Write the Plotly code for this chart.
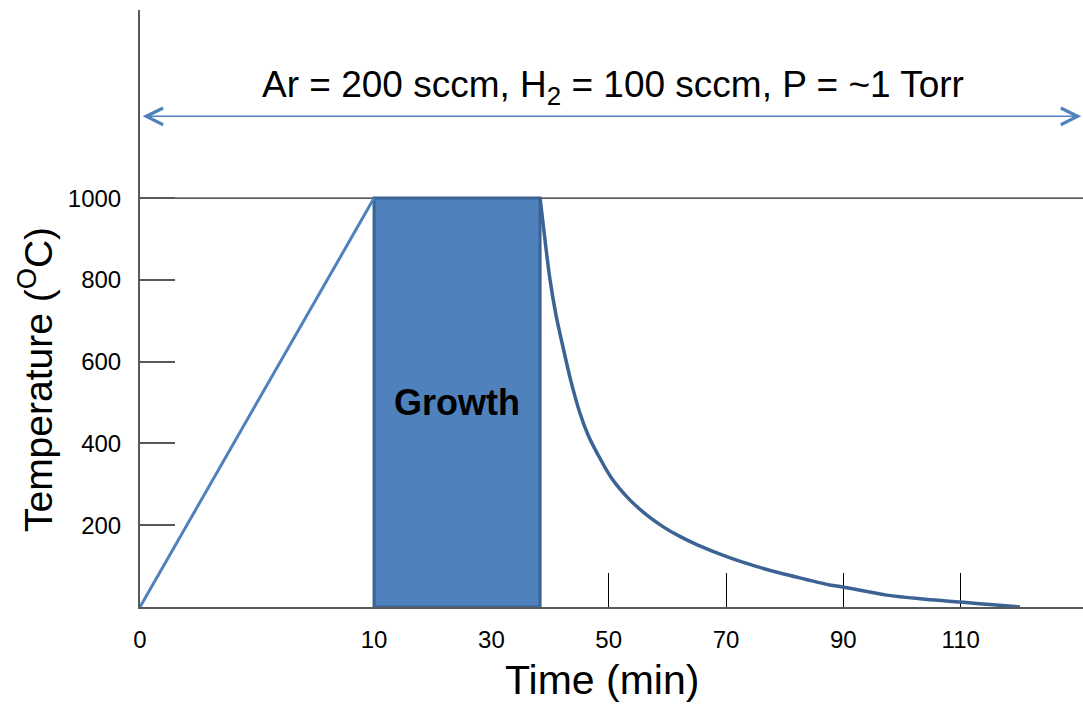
import plotly.graph_objects as go

# ---------------- data ----------------
ramp_time = [0, 10]                      # min
ramp_temp = [0, 1000]                    # degC
growth_start, growth_end = 10, 38.3      # min
growth_temp = 1000                       # degC
cool_time = [38.3, 39.2, 40.0, 41.0, 42.2, 43.6, 45.1, 46.5, 48.0, 50.5, 53.6,
             56.4, 59.3, 62.2, 65.1, 70.7, 75.0, 79.2, 83.5, 87.7, 89.9, 97.4,
             104.0, 110.0, 115.0, 120.1]
cool_temp = [1000, 890, 800, 715, 636, 550, 474, 420, 377, 315, 262,
             226, 196, 172, 152, 120, 100, 83, 68, 54, 49, 29,
             19, 12, 6, 0]
x_tick_minutes = [0, 10, 30, 50, 70, 90, 110]
x_tick_labels = [str(v) for v in x_tick_minutes]
y_tick_values = [200, 400, 600, 800, 1000]
gas_label = "Ar = 200 sccm, H<sub>2</sub> = 100 sccm, P = ~1 Torr"
gas_band_temp = 1200
growth_label = "<b>Growth</b>"

# schematic (broken) time axis: the 0-10 min ramp is stretched
ZERO_POS = -29.9
X_MAX = 130.85
def axis_pos(t):
    return t if t >= 10 else ZERO_POS + (10 - ZERO_POS) * t / 10

FONT = "Arial, Liberation Sans, sans-serif"
LIGHT = "#4f81bd"
DARK = "#3b6394"

fig = go.Figure()

# growth box
gx = [axis_pos(growth_start), axis_pos(growth_end), axis_pos(growth_end),
      axis_pos(growth_start), axis_pos(growth_start)]
gy = [0, 0, growth_temp, growth_temp, 0]
fig.add_trace(go.Scatter(x=gx, y=gy, mode="lines", fill="toself",
                         fillcolor=LIGHT, line=dict(color=DARK, width=3),
                         hoverinfo="skip", showlegend=False))

# ramp
fig.add_trace(go.Scatter(x=[axis_pos(t) for t in ramp_time], y=ramp_temp,
                         mode="lines", line=dict(color=LIGHT, width=3),
                         showlegend=False))

# cooling
fig.add_trace(go.Scatter(x=[axis_pos(t) for t in cool_time], y=cool_temp,
                         mode="lines", line=dict(color=DARK, width=3.5, shape="spline", smoothing=1.0),
                         showlegend=False))

# 1000 degC line
fig.add_shape(type="line", xref="paper", x0=0, x1=1, yref="y",
              y0=growth_temp, y1=growth_temp, layer="below",
              line=dict(color="#222222", width=1.3))

# gas-flow double arrow
fig.add_annotation(x=X_MAX - 0.3, y=gas_band_temp, ax=ZERO_POS + 0.2, ay=gas_band_temp,
                   xref="x", yref="y", axref="x", ayref="y", text="",
                   showarrow=True, arrowside="end+start", arrowhead=5, startarrowhead=5,
                   arrowsize=2.2, startarrowsize=2.2, arrowwidth=1.5, arrowcolor=LIGHT)
fig.add_annotation(x=50.8, y=1271, xref="x", yref="y", text=gas_label,
                   showarrow=False, font=dict(family=FONT, size=37, color="black"))
fig.add_annotation(x=(axis_pos(growth_start) + axis_pos(growth_end)) / 2, y=501,
                   xref="x", yref="y", text=growth_label, showarrow=False,
                   font=dict(family=FONT, size=36, color="black"))

# axis titles
fig.add_annotation(x=0.49, y=0, xref="paper", yref="paper", yanchor="middle",
                   yshift=-73, text="Time (min)", showarrow=False,
                   font=dict(family=FONT, size=41, color="black"))
fig.add_annotation(x=0, y=555, xref="paper", yref="y", xanchor="center",
                   xshift=-105, textangle=-90, text="Temperature (<sup>O</sup>C)",
                   showarrow=False, font=dict(family=FONT, size=39, color="black"))

fig.update_layout(
    width=1083, height=706,
    margin=dict(l=140, r=0, t=10, b=99),
    plot_bgcolor="white", paper_bgcolor="white",
    showlegend=False,
    xaxis=dict(range=[ZERO_POS, X_MAX], tickmode="array",
               tickvals=[axis_pos(t) for t in x_tick_minutes], ticktext=x_tick_labels,
               ticks="inside", ticklen=34, tickwidth=1.3, tickcolor="black",
               showline=True, linecolor="#595959", linewidth=2,
               showgrid=False, zeroline=False, layer="below traces",
               ticklabelstandoff=10,
               tickfont=dict(family=FONT, size=24, color="black")),
    yaxis=dict(range=[0, 1460], tickmode="array", tickvals=y_tick_values,
               ticks="inside", ticklen=35, tickwidth=1.5, tickcolor="#595959",
               showline=True, linecolor="#595959", linewidth=2,
               showgrid=False, zeroline=False, layer="below traces",
               ticklabelstandoff=12,
               tickfont=dict(family=FONT, size=24, color="black")),
)

fig.write_html("out.html")
